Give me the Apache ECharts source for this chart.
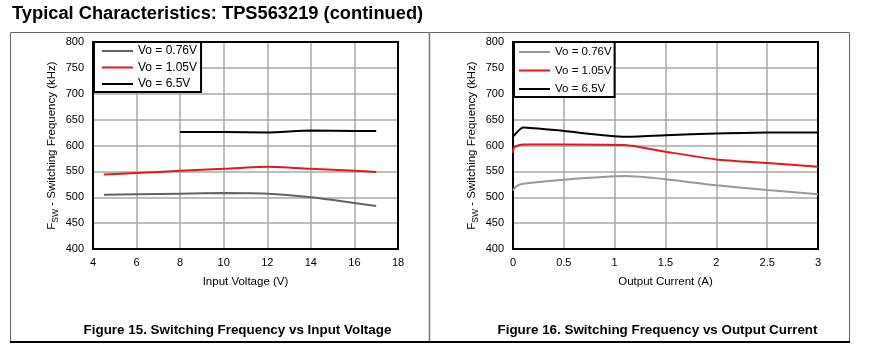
<!DOCTYPE html>
<html>
<head>
<meta charset="utf-8">
<script src="https://cdn.jsdelivr.net/npm/echarts@6/dist/echarts.min.js"></script>
<style>
  html, body { margin: 0; padding: 0; background: #fff; }
  #chart { width: 869px; height: 360px; }
</style>
</head>
<body>
<div id="chart"></div>
<script>
// ---- Data ----
const seriesNames = ['Vo = 0.76V', 'Vo = 1.05V', 'Vo = 6.5V'];

// Figure 15: Switching Frequency vs Input Voltage
const vin076X = [4.5, 6, 8, 10, 12, 14, 16, 17];
const vin076 = [505, 506, 507, 508, 507, 500, 489, 483];
const vin105X = [4.5, 6, 8, 10, 12, 14, 16, 17];
const vin105 = [544, 547, 551, 555, 559, 555, 551, 549];
const vin65X = [8, 10, 12, 14, 16, 17];
const vin65 = [626, 626, 625, 629, 628, 628];

// Figure 16: Switching Frequency vs Output Current
const iout076X = [0, 0.03, 0.1, 0.5, 1.1, 1.5, 2, 2.5, 3];
const iout076 = [513, 521, 526, 534, 541, 535, 523, 514, 506];
const iout105X = [0, 0.01, 0.05, 0.1, 0.5, 1.1, 1.5, 2, 2.5, 3];
const iout105 = [586, 596, 600, 602, 602, 601, 588, 573, 566, 559];
const iout65X = [0, 0.1, 0.5, 1.1, 1.5, 2, 2.5, 3];
const iout65 = [617, 635, 628, 617, 620, 623, 625, 625];

const pageTitle = 'Typical Characteristics: TPS563219 (continued)';
const caption15 = 'Figure 15. Switching Frequency vs Input Voltage';
const caption16 = 'Figure 16. Switching Frequency vs Output Current';
const xName15 = 'Input Voltage (V)';
const xName16 = 'Output Current (A)';

// ---- Helpers ----
const pair = (xs, ys) => xs.map((x, i) => [x, ys[i]]);
const FONT = 'Arial, "Liberation Sans", sans-serif';
const colorsLeft = ['#636363', '#e3191c', '#000000'];
const colorsRight = ['#999999', '#e3191c', '#000000'];

function yAxis(gridIndex) {
  return {
    type: 'value', gridIndex, min: 400, max: 800, interval: 50,
    name: '{f|F}{s|SW}{t| - Switching Frequency (kHz)}',
    nameLocation: 'middle', nameGap: 33, nameRotate: 90,
    nameTextStyle: {
      rich: {
        f: { fontFamily: FONT, fontSize: 11.5, color: '#000', lineHeight: 16, verticalAlign: 'middle' },
        s: { fontFamily: FONT, fontSize: 8.5, color: '#000', lineHeight: 10, verticalAlign: 'bottom' },
        t: { fontFamily: FONT, fontSize: 11.5, color: '#000', lineHeight: 16, verticalAlign: 'middle' }
      }
    },
    axisLine: { show: true, lineStyle: { color: '#000', width: 2 } },
    axisTick: { show: false },
    axisLabel: { fontFamily: FONT, fontSize: 11, color: '#000', margin: 9 },
    splitLine: { show: true, lineStyle: { color: '#a8a8a8', width: 1.5 } }
  };
}
function xAxis(gridIndex, min, max, interval, name) {
  return {
    type: 'value', gridIndex, min, max, interval,
    name, nameLocation: 'middle', nameGap: 27,
    nameTextStyle: { fontFamily: FONT, fontSize: 11.5, color: '#000' },
    axisLine: { show: true, onZero: false, lineStyle: { color: '#000', width: 2 } },
    axisTick: { show: false },
    axisLabel: { fontFamily: FONT, fontSize: 11, color: '#000', margin: 8 },
    splitLine: { show: true, lineStyle: { color: '#a8a8a8', width: 1.5 } }
  };
}
function line(name, data, xi, color) {
  return {
    type: 'line', name, data, xAxisIndex: xi, yAxisIndex: xi,
    showSymbol: false, symbol: 'none', smooth: 0.2,
    lineStyle: { color, width: 2 }, itemStyle: { color },
    emphasis: { disabled: true }, animation: false
  };
}
function legend(left, colors, padding, itemGap, fontSize) {
  return {
    orient: 'vertical', left, top: 42,
    backgroundColor: '#fff', borderColor: '#000', borderWidth: 2, borderRadius: 0,
    padding, itemGap, itemWidth: 31, itemHeight: 2, icon: 'rect',
    textStyle: { fontFamily: FONT, fontSize, color: '#000' },
    selectedMode: false,
    data: seriesNames.map((n, i) => ({ name: n, itemStyle: { color: colors[i] } }))
  };
}

const chart = echarts.init(document.getElementById('chart'), null, { renderer: 'canvas' });
chart.setOption({
  animation: false,
  backgroundColor: '#fff',
  grid: [
    { left: 93, right: 471, top: 42, bottom: 111, show: true, borderColor: '#000', borderWidth: 2, backgroundColor: 'transparent', z: 3 },
    { left: 513, right: 51, top: 42, bottom: 111, show: true, borderColor: '#000', borderWidth: 2, backgroundColor: 'transparent', z: 3 }
  ],
  xAxis: [
    xAxis(0, 4, 18, 2, xName15),
    xAxis(1, 0, 3, 0.5, xName16)
  ],
  yAxis: [yAxis(0), yAxis(1)],
  legend: [
    legend(94, colorsLeft, [3, 4, 2, 8], 4.5, 12),
    legend(514, colorsRight, [4, 3, 2, 5], 6.5, 11.5)
  ],
  series: [
    line(seriesNames[0], pair(vin076X, vin076), 0, colorsLeft[0]),
    line(seriesNames[1], pair(vin105X, vin105), 0, colorsLeft[1]),
    line(seriesNames[2], pair(vin65X, vin65), 0, colorsLeft[2]),
    line(seriesNames[0], pair(iout076X, iout076), 1, colorsRight[0]),
    line(seriesNames[1], pair(iout105X, iout105), 1, colorsRight[1]),
    line(seriesNames[2], pair(iout65X, iout65), 1, colorsRight[2])
  ],
  graphic: [
    { type: 'text', left: 12, top: 5, style: { text: pageTitle, font: 'bold 18.3px ' + FONT, fill: '#000' } },
    { type: 'rect', shape: { x: 10.5, y: 32.5, width: 839, height: 309 }, style: { fill: 'none', stroke: '#666', lineWidth: 1 }, z: -1 },
    { type: 'line', shape: { x1: 429.5, y1: 32, x2: 429.5, y2: 342 }, style: { stroke: '#777', lineWidth: 1.5 }, z: -1 },
    { type: 'line', shape: { x1: 10, y1: 342, x2: 850, y2: 342 }, style: { stroke: '#000', lineWidth: 2 }, z: 0 },
    { type: 'text', x: 237.5, y: 330, style: { text: caption15, font: 'bold 13.4px ' + FONT, fill: '#000', align: 'center', verticalAlign: 'middle' } },
    { type: 'text', x: 657.5, y: 330, style: { text: caption16, font: 'bold 13.4px ' + FONT, fill: '#000', align: 'center', verticalAlign: 'middle' } }
  ]
});
</script>
</body>
</html>
